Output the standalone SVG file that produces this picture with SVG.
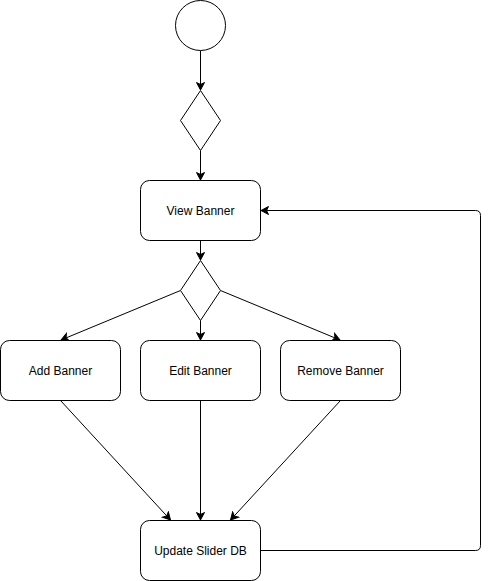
<svg xmlns="http://www.w3.org/2000/svg" width="489" height="581" viewBox="0 0 489 581">
<style>
.n{fill:#fff;stroke:#000;stroke-width:1}
.t{font-family:"Liberation Sans",Arial,sans-serif;font-size:12px;fill:#000;text-anchor:middle;dominant-baseline:central}
.e{fill:none;stroke:#000;stroke-width:1}
</style>
<defs>
<marker id="a" markerUnits="userSpaceOnUse" markerWidth="10" markerHeight="10" viewBox="0 0 10 10" refX="8" refY="5" orient="auto">
<path d="M0.5,1 L8,5 L0.5,9 L2.5,5 Z" fill="#000" stroke="#000" stroke-width="1"/>
</marker>
</defs>
<g id="edges">
<line class="e" x1="200.5" y1="50.5" x2="200.5" y2="90" marker-end="url(#a)"/>
<line class="e" x1="200.5" y1="150.5" x2="200.5" y2="180" marker-end="url(#a)"/>
<line class="e" x1="200.5" y1="240.5" x2="200.5" y2="260" marker-end="url(#a)"/>
<line class="e" x1="180.5" y1="290.5" x2="61" y2="340" marker-end="url(#a)"/>
<line class="e" x1="200.5" y1="320.5" x2="200.5" y2="340" marker-end="url(#a)"/>
<line class="e" x1="220.5" y1="290.5" x2="340" y2="340" marker-end="url(#a)"/>
<line class="e" x1="60.5" y1="400.5" x2="170.5" y2="520" marker-end="url(#a)"/>
<line class="e" x1="200.5" y1="400.5" x2="200.5" y2="520" marker-end="url(#a)"/>
<line class="e" x1="340.5" y1="400.5" x2="230.5" y2="520" marker-end="url(#a)"/>
<path class="e" d="M260.5,550.5 L475.5,550.5 Q480.5,550.5 480.5,545.5 L480.5,215.5 Q480.5,210.5 475.5,210.5 L261,210.5" marker-end="url(#a)"/>
</g>
<g id="start"><circle class="n" cx="200.5" cy="25.5" r="25"/></g>
<g id="decision1"><path class="n" d="M200.5,90.5 L220.5,120.5 L200.5,150.5 L180.5,120.5 Z"/></g>
<g id="view"><rect class="n" x="140.5" y="180.5" width="120" height="60" rx="9"/><text class="t" x="200.5" y="210.5">View Banner</text></g>
<g id="decision2"><path class="n" d="M200.5,260.5 L220.5,290.5 L200.5,320.5 L180.5,290.5 Z"/></g>
<g id="add"><rect class="n" x="0.5" y="340.5" width="120" height="60" rx="9"/><text class="t" x="60.5" y="370.5">Add Banner</text></g>
<g id="edit"><rect class="n" x="140.5" y="340.5" width="120" height="60" rx="9"/><text class="t" x="200.5" y="370.5">Edit Banner</text></g>
<g id="remove"><rect class="n" x="280.5" y="340.5" width="120" height="60" rx="9"/><text class="t" x="340.5" y="370.5">Remove Banner</text></g>
<g id="update"><rect class="n" x="140.5" y="520.5" width="120" height="60" rx="9"/><text class="t" x="200.5" y="550.5">Update Slider DB</text></g>
</svg>
